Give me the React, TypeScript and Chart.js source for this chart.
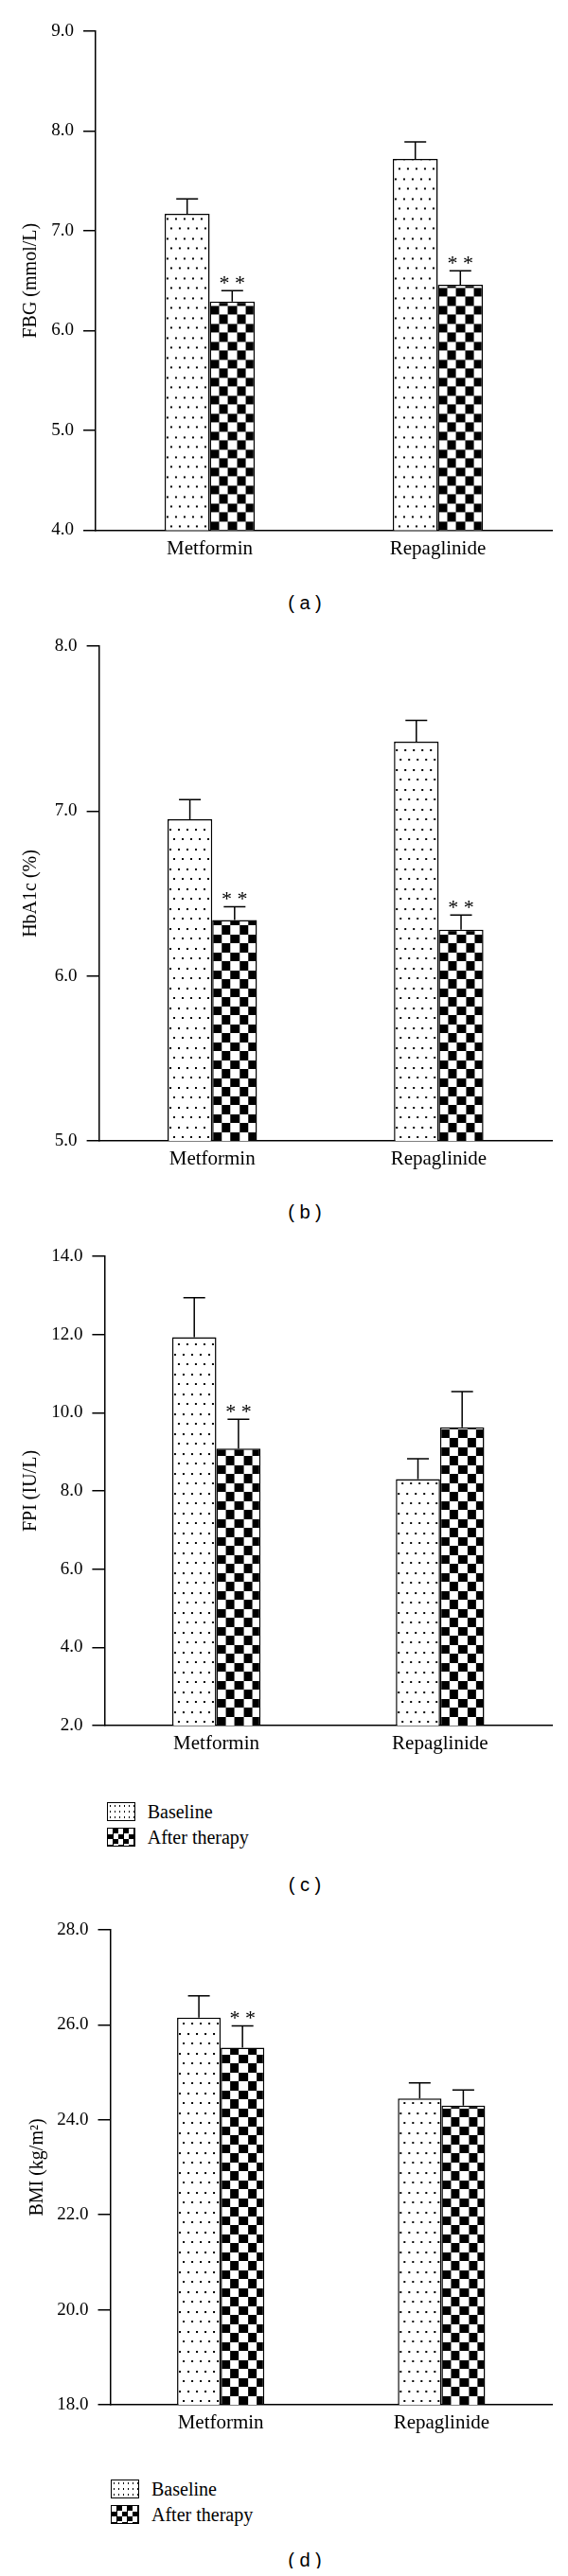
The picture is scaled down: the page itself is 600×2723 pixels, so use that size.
import React, { useEffect, useRef } from "react";
import { Chart, registerables } from "chart.js";

Chart.register(...registerables);

// ---------------- data ----------------
const categories = ["Metformin", "Repaglinide"];
const seriesNames = ["Baseline", "After therapy"];

const fbgBaseline = [7.17, 7.72];
const fbgBaselineErr = [0.15, 0.17];
const fbgAfter = [6.29, 6.46];
const fbgAfterErr = [0.11, 0.14];
const fbgStars = [true, true];

const hba1cBaseline = [6.95, 7.42];
const hba1cBaselineErr = [0.12, 0.13];
const hba1cAfter = [6.34, 6.28];
const hba1cAfterErr = [0.08, 0.09];
const hba1cStars = [true, true];

const fpiBaseline = [11.93, 8.3];
const fpiBaselineErr = [1.01, 0.52];
const fpiAfter = [9.08, 9.63];
const fpiAfterErr = [0.75, 0.91];
const fpiStars = [true, false];

const bmiBaseline = [26.15, 24.45];
const bmiBaselineErr = [0.46, 0.33];
const bmiAfter = [25.52, 24.3];
const bmiAfterErr = [0.46, 0.33];
const bmiStars = [true, false];

const fbgAxis = { min: 4, max: 9, step: 1 };
const hba1cAxis = { min: 5, max: 8, step: 1 };
const fpiAxis = { min: 2, max: 14, step: 2 };
const bmiAxis = { min: 18, max: 28, step: 2 };

const axisTitles = ["FBG (mmol/L)", "HbA1c (%)", "FPI (IU/L)", "BMI (kg/m\u00B2)"];
const captions = ["( a )", "( b )", "( c )", "( d )"];

// ---------------- styling / layout ----------------
const SERIF = '"Liberation Serif", "Times New Roman", serif';
const SANS = '"Liberation Sans", Arial, sans-serif';
const CP = 0.395;
const CANVAS_W = 584;
const PAD_TOP = 22;
const X_LABEL_PAD = 7;
const X_FONT = 21;

function makeTile(kind: "dots" | "checker"): HTMLCanvasElement {
  const c = document.createElement("canvas");
  const g = c.getContext("2d")!;
  if (kind === "dots") {
    c.width = 9;
    c.height = 21;
    g.fillStyle = "#fff";
    g.fillRect(0, 0, 9, 21);
    g.fillStyle = "#000";
    g.fillRect(2, 6, 2, 2);
    g.fillRect(6, 16, 2, 2);
  } else {
    c.width = 19;
    c.height = 19;
    g.fillStyle = "#fff";
    g.fillRect(0, 0, 19, 19);
    g.fillStyle = "#000";
    g.fillRect(10, 0, 9, 10);
    g.fillRect(0, 10, 10, 9);
  }
  return c;
}

function patternFill(tile: HTMLCanvasElement) {
  return (ctx: any) => {
    const chart = ctx.chart;
    const xs = chart.scales?.x;
    const ys = chart.scales?.y;
    const pat = chart.ctx.createPattern(tile, "repeat");
    if (!xs || !ys || ctx.dataIndex === undefined) return pat;
    const catW = xs.width / categories.length;
    const barW = (catW * CP) / 2;
    const center = xs.getPixelForValue(ctx.dataIndex);
    const left = center - (catW * CP) / 2 + ctx.datasetIndex * barW;
    pat.setTransform(new DOMMatrix([1, 0, 0, 1, left, ys.bottom]));
    return pat;
  };
}

function errorBarPlugin(errors: number[][], stars: boolean[]) {
  return {
    id: "errbars",
    afterDatasetsDraw(chart: any) {
      const { ctx } = chart;
      const ys = chart.scales.y;
      chart.data.datasets.forEach((ds: any, di: number) => {
        const meta = chart.getDatasetMeta(di);
        meta.data.forEach((el: any, i: number) => {
          const v = ds.data[i] as number;
          const e = errors[di][i];
          const x = el.x;
          const yTop = ys.getPixelForValue(v);
          const yErr = ys.getPixelForValue(v + e);
          ctx.save();
          ctx.strokeStyle = "#000";
          ctx.lineWidth = 1.5;
          ctx.beginPath();
          ctx.moveTo(x, yTop);
          ctx.lineTo(x, yErr);
          ctx.moveTo(x - 11.5, yErr);
          ctx.lineTo(x + 11.5, yErr);
          ctx.stroke();
          if (di === 1 && stars[i]) {
            ctx.fillStyle = "#000";
            ctx.font = `22px ${SERIF}`;
            ctx.textAlign = "center";
            ctx.textBaseline = "middle";
            ctx.fillText("* *", x, yErr - 7);
          }
          ctx.restore();
        });
      });
    },
  };
}

type PanelCfg = {
  areaTop: number;
  areaBottom: number;
  axisX: number;
  titleX: number;
  axis: { min: number; max: number; step: number };
  title: string;
  baseline: number[];
  baselineErr: number[];
  after: number[];
  afterErr: number[];
  stars: boolean[];
};

const panels: PanelCfg[] = [
  {
    areaTop: 32.6, areaBottom: 567, axisX: 101, titleX: 33, axis: fbgAxis, title: axisTitles[0],
    baseline: fbgBaseline, baselineErr: fbgBaselineErr, after: fbgAfter, afterErr: fbgAfterErr, stars: fbgStars,
  },
  {
    areaTop: 683, areaBottom: 1213, axisX: 104.6, titleX: 33, axis: hba1cAxis, title: axisTitles[1],
    baseline: hba1cBaseline, baselineErr: hba1cBaselineErr, after: hba1cAfter, afterErr: hba1cAfterErr, stars: hba1cStars,
  },
  {
    areaTop: 1328, areaBottom: 1831, axisX: 110.4, titleX: 33, axis: fpiAxis, title: axisTitles[2],
    baseline: fpiBaseline, baselineErr: fpiBaselineErr, after: fpiAfter, afterErr: fpiAfterErr, stars: fpiStars,
  },
  {
    areaTop: 2040, areaBottom: 2549, axisX: 116.5, titleX: 40, axis: bmiAxis, title: axisTitles[3],
    baseline: bmiBaseline, baselineErr: bmiBaselineErr, after: bmiAfter, afterErr: bmiAfterErr, stars: bmiStars,
  },
];

const captionY = [637, 1281, 1992, 2706];
const legends = [
  { rows: [1915, 1942], swatchLeft: 112.7, textLeft: 155.7 },
  { rows: [2631, 2658], swatchLeft: 116.5, textLeft: 160 },
];

function Panel({ p }: { p: PanelCfg }) {
  const ref = useRef<HTMLCanvasElement>(null);
  const canvasTop = p.areaTop - PAD_TOP;
  const xH = X_LABEL_PAD + X_FONT * 1.2;
  const h = Math.round(p.areaBottom - canvasTop + xH + 8);
  const padBottom = h - (p.areaBottom - canvasTop) - xH;

  useEffect(() => {
    const dots = makeTile("dots");
    const checker = makeTile("checker");
    const chart = new Chart(ref.current!, {
      type: "bar",
      data: {
        labels: categories,
        datasets: [
          {
            label: seriesNames[0],
            data: p.baseline,
            backgroundColor: patternFill(dots) as any,
            borderColor: "#000",
            borderWidth: 1.5,
            categoryPercentage: CP,
            barPercentage: 1,
          },
          {
            label: seriesNames[1],
            data: p.after,
            backgroundColor: patternFill(checker) as any,
            borderColor: "#000",
            borderWidth: 1.5,
            categoryPercentage: CP,
            barPercentage: 1,
          },
        ],
      },
      options: {
        animation: false,
        responsive: false,
        devicePixelRatio: 1,
        layout: { padding: { top: PAD_TOP, bottom: padBottom, left: 0, right: CANVAS_W - (583 - 8) } },
        plugins: { legend: { display: false }, tooltip: { enabled: false } },
        scales: {
          x: {
            grid: { display: false, drawTicks: false },
            border: { display: true, color: "#000", width: 1.5 },
            ticks: { color: "#000", padding: X_LABEL_PAD, font: { family: SERIF, size: X_FONT } },
          },
          y: {
            min: p.axis.min,
            max: p.axis.max,
            afterFit: (scale: any) => {
              scale.width = p.axisX - 8;
            },
            ticks: {
              stepSize: p.axis.step,
              color: "#000",
              padding: 10,
              font: { family: SERIF, size: 19 },
              callback: (v: any) => Number(v).toFixed(1),
            },
            grid: { display: true, drawOnChartArea: false, drawTicks: true, tickLength: 13, color: "#000", lineWidth: 1.5 },
            border: { display: true, color: "#000", width: 1.5 },
            title: {
              display: true,
              text: p.title,
              color: "#000",
              font: { family: SERIF, size: 20 },
              padding: { top: p.titleX - 8 - 12, bottom: 0 },
            },
          },
        },
      },
      plugins: [errorBarPlugin([p.baselineErr, p.afterErr], p.stars)],
    });
    return () => chart.destroy();
  }, []);

  return (
    <canvas
      ref={ref}
      width={CANVAS_W}
      height={h}
      style={{ position: "absolute", left: 0, top: canvasTop - 8, width: CANVAS_W, height: h }}
    />
  );
}

function Legend({ rows, swatchLeft, textLeft }: { rows: number[]; swatchLeft: number; textLeft: number }) {
  const sw = { position: "absolute" as const, left: swatchLeft - 8, width: 30.6, height: 19.5, boxSizing: "border-box" as const, border: "1.5px solid #000" };
  const txt = { position: "absolute" as const, left: textLeft - 8, height: 24, lineHeight: "24px", fontFamily: SERIF, fontSize: 20, color: "#000", whiteSpace: "nowrap" as const };
  return (
    <>
      <div style={{ ...sw, top: rows[0] - 8 - 9.75, backgroundColor: "#fff", backgroundImage: "radial-gradient(circle, #000 0.8px, transparent 1.1px)", backgroundSize: "5px 6px" }} />
      <div style={{ ...txt, top: rows[0] - 8 - 12 }}>{seriesNames[0]}</div>
      <div style={{ ...sw, top: rows[1] - 8 - 9.75, backgroundImage: "repeating-conic-gradient(#000 0% 25%, #fff 0% 50%)", backgroundSize: "11px 11px" }} />
      <div style={{ ...txt, top: rows[1] - 8 - 12 }}>{seriesNames[1]}</div>
    </>
  );
}

export default function App() {
  return (
    <div style={{ position: "relative", width: CANVAS_W, height: 2707, overflow: "hidden", background: "#fff" }}>
      {panels.map((p, i) => (
        <Panel key={i} p={p} />
      ))}
      {captions.map((c, i) => (
        <div
          key={c}
          style={{
            position: "absolute",
            left: 322 - 8 - 50,
            width: 100,
            top: captionY[i] - 8 - 12,
            height: 24,
            lineHeight: "24px",
            textAlign: "center",
            fontFamily: SANS,
            fontSize: 20,
            color: "#000",
            whiteSpace: "pre",
          }}
        >
          {c}
        </div>
      ))}
      {legends.map((l, i) => (
        <Legend key={i} {...l} />
      ))}
    </div>
  );
}
